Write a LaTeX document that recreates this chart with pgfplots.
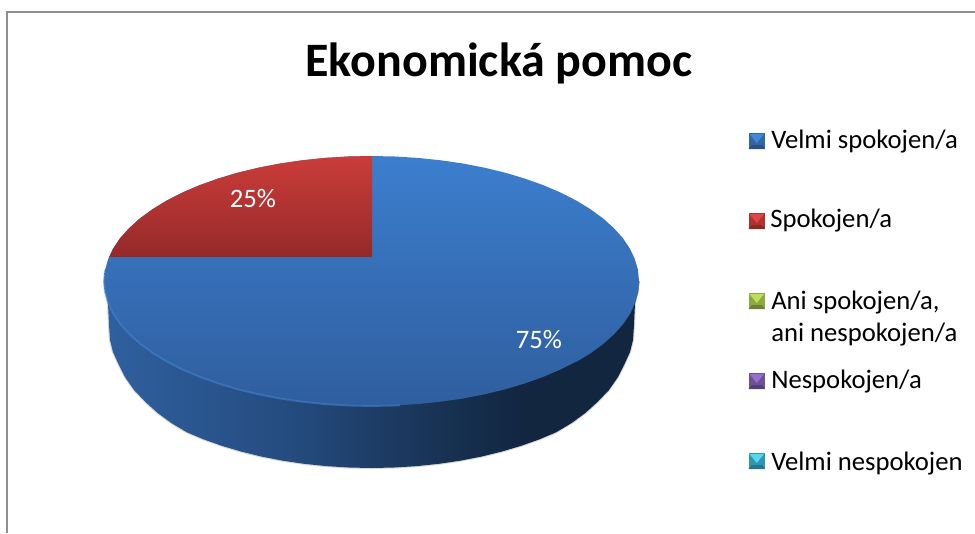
\documentclass[border=0pt]{standalone}
\usepackage{pgfplots}
\pgfplotsset{compat=1.18}
\usepackage{pgfplotstable}
\usepackage{fontspec}
\setmainfont{Carlito}
\definecolor{frameg}{HTML}{8E8E8E}
\definecolor{sideA}{HTML}{2F609F}
\definecolor{sideB}{HTML}{254C80}
\definecolor{sideC}{HTML}{183355}
\definecolor{sideD}{HTML}{122640}
\pgfdeclarehorizontalshading{sidepie}{100bp}{
 color(0bp)=(sideA); color(25bp)=(sideA); color(42bp)=(sideB); color(56bp)=(sideC); color(64bp)=(sideD); color(100bp)=(sideD)}
\pgfplotstableread{
x y
371.5 156
394.8 156.5
417.9 157.9
440.7 160.3
463 163.5
484.5 167.7
505.3 172.7
524.9 178.6
543.4 185.2
560.7 192.6
576.4 200.6
590.6 209.3
603.2 218.5
613.9 228.2
622.9 238.2
629.9 248.6
634.9 259.3
638 270.1
639 281
638 291.9
634.9 302.7
629.9 313.4
622.9 323.8
613.9 333.8
603.2 343.5
590.6 352.7
576.4 361.4
560.7 369.4
543.4 376.8
524.9 383.4
505.3 389.3
484.5 394.3
463 398.5
440.7 401.7
417.9 404.1
394.8 405.5
371.5 406
348.2 405.5
325.1 404.1
302.3 401.7
280 398.5
258.5 394.3
237.7 389.3
218.1 383.4
199.6 376.8
182.3 369.4
166.6 361.4
152.4 352.7
139.8 343.5
129.1 333.8
120.1 323.8
113.1 313.4
108.1 302.7
105 291.9
104 281
105 270.1
108.1 259.3
113.1 248.6
120.1 238.2
129.1 228.2
139.8 218.5
152.4 209.3
166.6 200.6
182.3 192.6
199.6 185.2
218.1 178.6
237.7 172.7
258.5 167.7
280 163.5
302.3 160.3
325.1 157.9
348.2 156.5
371.5 156
}\disc
\pgfplotstableread{
x y
372 257
109.2 257
113.1 248.6
120.1 238.2
129.1 228.2
139.8 218.5
152.4 209.3
166.6 200.6
182.3 192.6
199.6 185.2
218.1 178.6
237.7 172.7
258.5 167.7
280 163.5
302.3 160.3
325.1 157.9
348.2 156.5
372 156
}\wedgepts
\pgfplotstableread{
x y
639 281
635 303
634 325
633 340
630 352
625 363
618 377
609 390
597.5 402
585.3 413
571.4 423.2
556.1 432.3
539.3 439.4
521.2 445.8
502 451.5
481.8 456.5
460.8 460.6
439 463.8
416.8 466.1
394.3 467.5
371.5 468
348.7 467.5
326.2 466.1
304 463.8
282.2 460.6
261.2 456.5
241 451.5
221.8 445.8
203.7 439.4
186.9 432.3
171.6 423.2
157.7 413
145.5 402
134 390
125 377
118 363
113 352
110 340
109 325
108 303
104 281
}\sidepts
\pgfplotstableread{
x y
400 405.2
394.8 405.5
371.5 406
348.2 405.5
325.1 404.1
302.3 401.7
280 398.5
258.5 394.3
237.7 389.3
218.1 383.4
199.6 376.8
182.3 369.4
166.6 361.4
152.4 352.7
139.8 343.5
129.1 333.8
120.1 323.8
113.1 313.4
108.1 302.7
105 291.9
104 281
105 270.1
}\rimleft
\pgfplotstableread{
x y
639 281
638 291.9
634.9 302.7
629.9 313.4
622.9 323.8
613.9 333.8
603.2 343.5
590.6 352.7
576.4 361.4
}\rimright
\begin{document}
\begin{tikzpicture}
\begin{axis}[
 scale only axis, width=731.25pt, height=399.75pt,
 xmin=0, xmax=975, ymin=0, ymax=533, y dir=reverse,
 hide axis, clip=true]
% page background, sets the extent of the picture
\addplot[draw=none,fill=white] coordinates {(0,0) (975,0) (975,533) (0,533)};
% frame
\addplot[draw=frameg,line width=1.5pt] coordinates {(7,533) (7,11.5) (975,11.5)};
% shadow
\addplot[draw=black!30,line width=1.6pt,opacity=0.5] table {\sidepts};
% side
\addplot[draw=none,shading=sidepie] table {\sidepts};
% top disc
\addplot[draw=none,shade,top color={rgb,255:red,60;green,126;blue,206},bottom color={rgb,255:red,47;green,94;blue,158}] table {\disc};
\addplot[draw=none,shade,top color={rgb,255:red,203;green,60;blue,57},bottom color={rgb,255:red,148;green,42;blue,41}] table {\wedgepts};
% rim
\addplot[draw={rgb,255:red,68;green,132;blue,208},line width=1.4pt,opacity=0.55,line join=round] table {\rimleft};
\addplot[draw={rgb,255:red,52;green,104;blue,172},line width=0.8pt,opacity=0.7,line join=round] table {\rimright};
% legend keys
\addplot[draw=none,fill={rgb,255:red,50;green,102;blue,164}] coordinates {(748.5,133) (765,133) (765,149) (748.5,149)};
\addplot[draw=none,fill={rgb,255:red,66;green,136;blue,212}] coordinates {(749.5,134) (764,134) (756.75,143)};
\addplot[draw=none,fill={rgb,255:red,40;green,82;blue,134}] coordinates {(748.5,149) (765,149) (762,145) (751.5,145)};
\addplot[draw=none,fill={rgb,255:red,176;green,50;blue,48}] coordinates {(748.5,213) (765,213) (765,229) (748.5,229)};
\addplot[draw=none,fill={rgb,255:red,222;green,72;blue,68}] coordinates {(749.5,214) (764,214) (756.75,223)};
\addplot[draw=none,fill={rgb,255:red,140;green,40;blue,38}] coordinates {(748.5,229) (765,229) (762,225) (751.5,225)};
\addplot[draw=none,fill={rgb,255:red,140;green,170;blue,64}] coordinates {(748.5,293) (765,293) (765,309) (748.5,309)};
\addplot[draw=none,fill={rgb,255:red,186;green,222;blue,88}] coordinates {(749.5,294) (764,294) (756.75,303)};
\addplot[draw=none,fill={rgb,255:red,108;green,132;blue,50}] coordinates {(748.5,309) (765,309) (762,305) (751.5,305)};
\addplot[draw=none,fill={rgb,255:red,108;green,80;blue,152}] coordinates {(748.5,373) (765,373) (765,389) (748.5,389)};
\addplot[draw=none,fill={rgb,255:red,146;green,112;blue,204}] coordinates {(749.5,374) (764,374) (756.75,383)};
\addplot[draw=none,fill={rgb,255:red,84;green,62;blue,120}] coordinates {(748.5,389) (765,389) (762,385) (751.5,385)};
\addplot[draw=none,fill={rgb,255:red,48;green,150;blue,178}] coordinates {(748.5,453) (765,453) (765,469) (748.5,469)};
\addplot[draw=none,fill={rgb,255:red,84;green,214;blue,238}] coordinates {(749.5,454) (764,454) (756.75,463)};
\addplot[draw=none,fill={rgb,255:red,36;green,118;blue,142}] coordinates {(748.5,469) (765,469) (762,465) (751.5,465)};
% text
\node[anchor=base,inner sep=0pt,font=\fontsize{36}{40}\selectfont\bfseries] at (axis cs:499,76) {Ekonomická pomoc};
\node[anchor=base,inner sep=0pt,text=white,font=\fontsize{20}{24}\selectfont] at (axis cs:253,207) {25\%};
\node[anchor=base,inner sep=0pt,text=white,font=\fontsize{20}{24}\selectfont] at (axis cs:539,348) {75\%};
\node[anchor=base west,inner sep=0pt,font=\fontsize{20}{24}\selectfont] at (axis cs:771,148) {Velmi spokojen/a};
\node[anchor=base west,inner sep=0pt,font=\fontsize{20}{24}\selectfont] at (axis cs:770,227) {Spokojen/a};
\node[anchor=base west,inner sep=0pt,font=\fontsize{20}{24}\selectfont] at (axis cs:771,309) {Ani spokojen/a,};
\node[anchor=base west,inner sep=0pt,font=\fontsize{20}{24}\selectfont] at (axis cs:771,341) {ani nespokojen/a};
\node[anchor=base west,inner sep=0pt,font=\fontsize{20}{24}\selectfont] at (axis cs:771,388) {Nespokojen/a};
\node[anchor=base west,inner sep=0pt,font=\fontsize{20}{24}\selectfont] at (axis cs:771,470) {Velmi nespokojen};
\end{axis}
\end{tikzpicture}
\end{document}
